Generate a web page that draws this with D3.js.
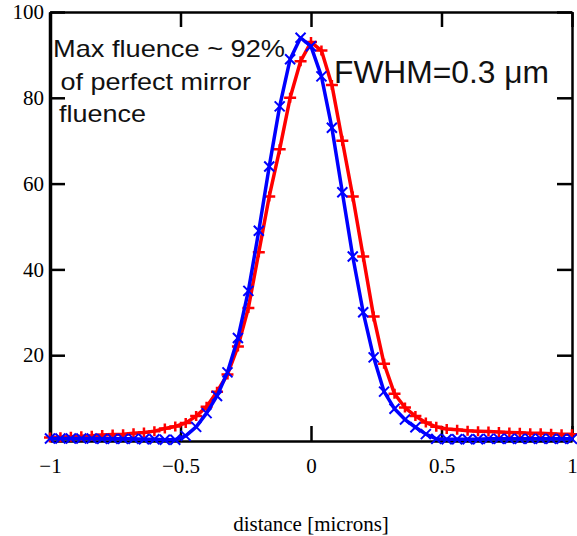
<!DOCTYPE html>
<html>
<head>
<meta charset="utf-8">
<script src="https://cdn.jsdelivr.net/npm/d3@7"></script>
<style>
  body { margin: 0; background: #fff; }
  svg { display: block; }
</style>
</head>
<body>
<div id="chart"></div>
<script>
// distance grid in microns, step 0.04
var xValues = d3.range(51).map(function(i) { return +(-1 + i * 0.04).toFixed(2); });

// red "+" series (fluence, % of perfect mirror)
var redValues = [
  0.8, 0.9, 1.0, 1.1, 1.2, 1.4, 1.5, 1.6, 1.8, 2.0,
  2.3, 2.9, 3.4, 4.2, 5.8, 8, 11.5, 15.5, 22, 31,
  44, 57, 68, 80, 88.5, 93, 91, 83, 70, 57,
  43, 29, 18, 11, 7.8, 5.8, 4.3, 3.3, 2.8, 2.6,
  2.4, 2.3, 2.2, 2.1, 2.0, 1.9, 1.8, 1.8, 1.7, 1.6,
  1.6
];

// blue "x" series
var blueValues = [
  0.6, 0.6, 0.6, 0.6, 0.6, 0.5, 0.5, 0.5, 0.5, 0.4,
  0.4, 0.3, 0.3, 1.2, 3.3, 6.5, 10.5, 16, 24, 35,
  49, 64, 78, 89, 94, 92, 85, 73, 58, 43,
  30, 19.5, 11.5, 7.5, 5, 3.2, 1.6, 0.5, 0.4, 0.4,
  0.4, 0.4, 0.5, 0.5, 0.5, 0.5, 0.5, 0.5, 0.5, 0.5,
  0.5
];

var xTicks = [-1, -0.5, 0, 0.5, 1];
var yTicks = [20, 40, 60, 80, 100];
var xLabel = "distance [microns]";
var notes = ["Max fluence ~ 92%", " of perfect mirror", "fluence"];
var fwhmText = "FWHM=0.3 \u03bcm";

var W = 577, H = 536;
var plotL = 50, plotR = 572, plotT = 12, plotB = 441;

var svg = d3.select("#chart").append("svg")
    .attr("width", W)
    .attr("height", H);

var x = d3.scaleLinear().domain([-1, 1]).range([plotL, plotR]);
var y = d3.scaleLinear().domain([0, 100]).range([plotB, plotT]);

var fmt = function(d) { return d < 0 ? "\u2212" + Math.abs(d) : String(d); };
var serif = "'Liberation Serif', 'Times New Roman', serif";

// left axis: inward ticks + labels
var gLeft = svg.append("g")
    .attr("transform", "translate(" + plotL + ",0)")
    .call(d3.axisLeft(y).tickValues(yTicks).tickFormat(fmt)
        .tickSizeInner(-15).tickSizeOuter(0).tickPadding(6));

// bottom axis
var gBottom = svg.append("g")
    .attr("transform", "translate(0," + plotB + ")")
    .call(d3.axisBottom(x).tickValues(xTicks).tickFormat(fmt)
        .tickSizeInner(-15).tickSizeOuter(0).tickPadding(17));

// mirrored ticks on right and top, no labels
var gRight = svg.append("g")
    .attr("transform", "translate(" + plotR + ",0)")
    .call(d3.axisRight(y).tickValues(yTicks).tickFormat("")
        .tickSizeInner(-15).tickSizeOuter(0));

var gTop = svg.append("g")
    .attr("transform", "translate(0," + plotT + ")")
    .call(d3.axisTop(x).tickValues(xTicks).tickFormat("")
        .tickSizeInner(-15).tickSizeOuter(0));

[gLeft, gBottom, gRight, gTop].forEach(function(g) {
  g.selectAll("path.domain").attr("stroke", "#000").attr("stroke-width", 2.5);
  g.selectAll(".tick line").attr("stroke", "#000").attr("stroke-width", 2.5);
  g.selectAll(".tick text")
      .attr("fill", "#000")
      .style("font-family", serif)
      .style("font-size", "21px");
});
gLeft.select("path.domain").attr("stroke-width", 3.5);

// curves
var redData = xValues.map(function(d, i) { return { x: d, v: redValues[i] }; });
var blueData = xValues.map(function(d, i) { return { x: d, v: blueValues[i] }; });

var line = d3.line()
    .x(function(d) { return x(d.x); })
    .y(function(d) { return y(d.v); });

svg.append("path")
    .datum(redData)
    .attr("d", line)
    .attr("fill", "none")
    .attr("stroke", "#ff0000")
    .attr("stroke-width", 3.5)
    .attr("stroke-linejoin", "round");

var m = 5;
svg.append("g").selectAll("path")
    .data(redData)
    .enter().append("path")
    .attr("d", function(d) {
      var cx = x(d.x), cy = y(d.v);
      return "M" + (cx - m - 1) + "," + cy + "H" + (cx + m + 1) +
             "M" + cx + "," + (cy - m) + "V" + (cy + m);
    })
    .attr("stroke", "#ff0000")
    .attr("stroke-width", 2.5);

svg.append("path")
    .datum(blueData)
    .attr("d", line)
    .attr("fill", "none")
    .attr("stroke", "#0000ff")
    .attr("stroke-width", 3.5)
    .attr("stroke-linejoin", "round");

svg.append("g").selectAll("path")
    .data(blueData)
    .enter().append("path")
    .attr("d", function(d) {
      var cx = x(d.x), cy = y(d.v);
      return "M" + (cx - m) + "," + (cy - m) + "L" + (cx + m) + "," + (cy + m) +
             "M" + (cx - m) + "," + (cy + m) + "L" + (cx + m) + "," + (cy - m);
    })
    .attr("stroke", "#0000ff")
    .attr("stroke-width", 2);

// x axis title
svg.append("text")
    .attr("x", x(0))
    .attr("y", 531)
    .attr("text-anchor", "middle")
    .style("font-family", serif)
    .style("font-size", "21px")
    .text(xLabel);

// annotations
var sans = "'Liberation Sans', Arial, sans-serif";
var noteX = [53, 53, 59];
var noteY = [57, 90, 122];
var noteLen = [232, 198, 87];
svg.append("g").selectAll("text")
    .data(notes)
    .enter().append("text")
    .attr("x", function(d, i) { return noteX[i]; })
    .attr("y", function(d, i) { return noteY[i]; })
    .attr("textLength", function(d, i) { return noteLen[i]; })
    .attr("lengthAdjust", "spacingAndGlyphs")
    .style("white-space", "pre")
    .style("font-family", sans)
    .style("font-size", "24px")
    .attr("fill", "#111")
    .text(function(d) { return d; });

svg.append("text")
    .attr("x", 334)
    .attr("y", 83)
    .attr("textLength", 215)
    .attr("lengthAdjust", "spacingAndGlyphs")
    .style("font-family", sans)
    .style("font-size", "31px")
    .attr("fill", "#111")
    .text(fwhmText);
</script>
</body>
</html>
